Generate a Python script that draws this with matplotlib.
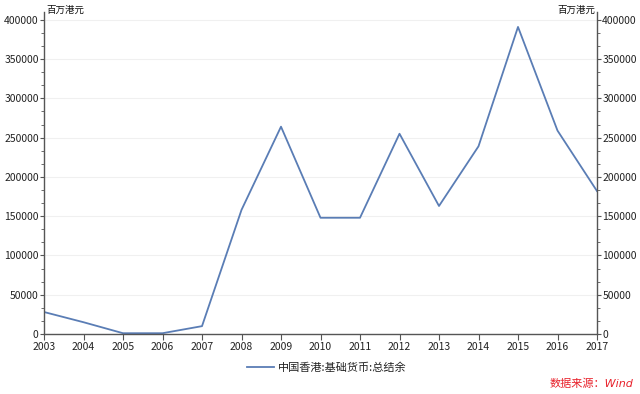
import matplotlib
matplotlib.use("Agg")
import matplotlib.pyplot as plt
from matplotlib.ticker import AutoMinorLocator, MultipleLocator

plt.rcParams['font.family'] = ['Noto Sans CJK SC', 'DejaVu Sans']

years = list(range(2003, 2018))
values = [28000, 15000, 1000, 1000, 10000, 158000, 264000, 148000, 148000,
          255000, 163000, 239000, 391000, 259000, 182000]
series_name = "中国香港:基础货币:总结余"
unit = "百万港元"
source = "数据来源：Wind"

fig = plt.figure(figsize=(6.4, 3.94), dpi=100)
ax = fig.add_axes([44/640, 1-334/394, (597-44)/640, (334-12)/394])
line_color = "#5a7db5"
ax.plot(years, values, color=line_color, lw=1.3, label=series_name)
ax.set_xlim(2003, 2017)
ax.set_ylim(0, 410000)
ax.yaxis.set_major_locator(MultipleLocator(50000))
ax.yaxis.set_minor_locator(AutoMinorLocator(3))
ax.set_xticks(years)
ax.grid(axis='y', color='#f0f0f0', lw=0.8)
ax.set_axisbelow(True)
ax.spines['top'].set_visible(False)
for s in ['left', 'right', 'bottom']:
    ax.spines[s].set_color('#555555')
    ax.spines[s].set_linewidth(1.0)
ax.tick_params(axis='both', which='major', direction='out', length=3, color='#555555',
               labelsize=7.5, labelcolor='#222222', pad=0.8)
ax.tick_params(axis='x', which='major', length=4, pad=1.5)
ax.tick_params(axis='y', which='both', left=True, right=True, labelleft=True, labelright=True)
ax.tick_params(axis='y', which='minor', length=2, color='#555555')
ax.tick_params(axis='x', which='minor', bottom=False)

fig.text(46/640, 1-10/394, unit, fontsize=6.8, ha='left', va='center', color='#111111')
fig.text(595/640, 1-10/394, unit, fontsize=6.8, ha='right', va='center', color='#111111')

leg = fig.legend(loc='center', bbox_to_anchor=(0.51, 1-368/394), frameon=False,
                 fontsize=8, handlelength=2.5, handletextpad=0.3)
for t in leg.get_texts():
    t.set_color('#222222')
fig.text(633/640, 1-384/394, source, fontsize=8, color='#e8202a', style='italic',
         family=['DejaVu Sans', 'Noto Sans CJK SC'], ha='right', va='center')

fig.savefig("out.png", dpi=100)
